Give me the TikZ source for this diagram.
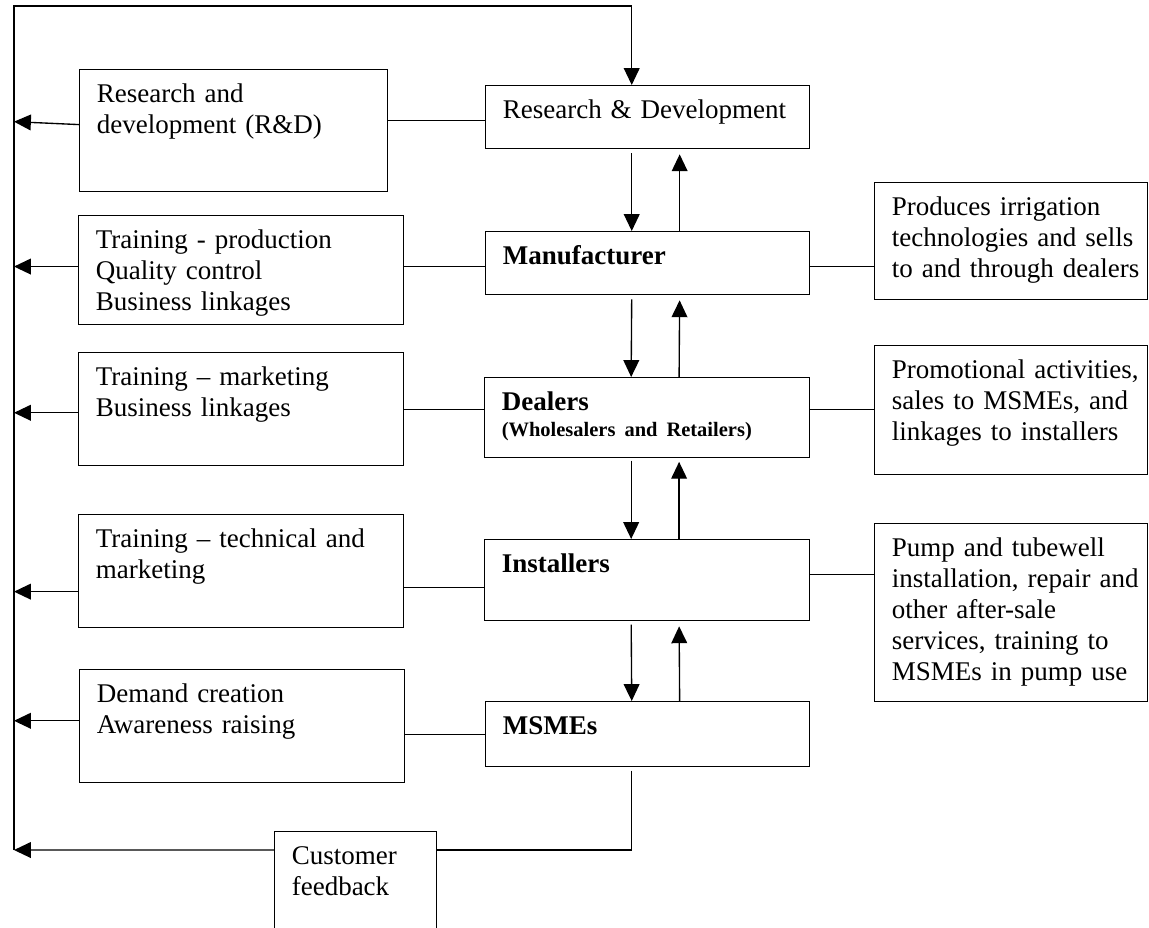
\documentclass[tikz,border=0pt]{standalone}
\usepackage{fontspec}
\setmainfont{Liberation Serif}
\usetikzlibrary{arrows.meta}

\tikzset{
	blk/.style 2 args = { draw , line width = 0.6pt , anchor = north west , inner sep = 0pt , align = left ,
		text width = #1 , text height = 14.7pt , text depth = #2 ,
		font = \fontsize{12}{13.8}\selectfont , execute at begin node = {\leftskip=7.6pt\relax} } ,
	lnk/.style = { line width = 0.6pt } ,
	arr/.style = { line width = 0.6pt , -{Triangle[length=7.5pt,width=7pt]} }
}

\begin{document}
\begin{tikzpicture}[x = 0.4444pt , y = -0.4444pt]
				\useasboundingbox (0,0) rectangle (1149,927);
				\coordinate (spinetop) at (14,6);
				\coordinate (spinebot) at (14,850);
				\node[blk = {136.9pt}{39.5pt}] (rdl) at (79,69) {Research and\\development (R\&D)};
				\node[blk = {144.4pt}{33.7pt}] (trp) at (78,215) {Training - production\\Quality control\\Business linkages};
				\node[blk = {144.4pt}{35.5pt}] (trm) at (78,352) {Training -- marketing\\Business linkages};
				\node[blk = {144.4pt}{35.5pt}] (trt) at (78,514) {Training -- technical and\\marketing};
				\node[blk = {144.4pt}{35.5pt}] (dem) at (79,669) {Demand creation\\Awareness raising};
				\node[blk = {144.0pt}{13.3pt}] (rd) at (485,85) {Research \& Development};
				\node[blk = {144.0pt}{13.3pt}] (man) at (485,231) {\textbf{Manufacturer}};
				\node[blk = {144.4pt}{20.9pt}] (dea) at (484,377) {\textbf{Dealers}\\[-2.2pt]{\fontsize{9.1}{11}\selectfont\bfseries (Wholesalers and Retailers)}};
				\node[blk = {144.4pt}{21.3pt}] (ins) at (484,539) {\textbf{Installers}};
				\node[blk = {144.0pt}{14.2pt}] (msm) at (485,701) {\textbf{MSMEs}};
				\node[blk = {121.3pt}{37.3pt}] (pro) at (874,182) {Produces irrigation\\technologies and sells\\to and through dealers};
				\node[blk = {121.3pt}{42.6pt}] (prm) at (874,345) {Promotional activities,\\sales to MSMEs, and\\linkages to installers};
				\node[blk = {121.3pt}{64.4pt}] (pmp) at (874,523) {Pump and tubewell\\installation, repair and\\other after-sale\\services, training to\\MSMEs in pump use};
				\node[blk = {72.0pt}{42.6pt}] (cus) at (274,831) {Customer\\feedback};
				\draw[arr] (spinebot) -- (spinetop) -| ([xshift=-7.1pt]rd.north);
				\draw[arr] ([yshift=2.7pt]rdl.west) -- ([yshift=4pt]rdl.west -| spinebot);
				\draw[arr] ([yshift=1.6pt]trp.west) -- ([yshift=1.6pt]trp.west -| spinebot);
				\draw[arr] ([yshift=-1.6pt]trm.west) -- ([yshift=-1.6pt]trm.west -| spinebot);
				\draw[arr] ([yshift=-9.1pt]trt.west) -- ([yshift=-9.1pt]trt.west -| spinebot);
				\draw[arr] ([yshift=2.4pt]dem.west) -- ([yshift=2.4pt]dem.west -| spinebot);
				\draw[lnk] ([yshift=-1.6pt]rd.west) -- ([yshift=-1.6pt]rd.west -| rdl.east);
				\draw[lnk] ([yshift=-1.6pt]man.west) -- ([yshift=-1.6pt]man.west -| trp.east);
				\draw[lnk] ([yshift=3.6pt]dea.west) -- ([yshift=3.6pt]dea.west -| trm.east);
				\draw[lnk] ([yshift=-3.3pt]ins.west) -- ([yshift=-3.3pt]ins.west -| trt.east);
				\draw[lnk] (msm.west) -- (msm.west -| dem.east);
				\draw[lnk] ([yshift=-1.6pt]man.east) -- ([yshift=-1.6pt]man.east -| pro.west);
				\draw[lnk] ([yshift=3.6pt]dea.east) -- ([yshift=3.6pt]dea.east -| prm.west);
				\draw[lnk] ([yshift=2.4pt]ins.east) -- ([yshift=2.4pt]ins.east -| pmp.west);
				\draw[arr , shorten <= 1.8pt] ([xshift=-7.1pt]rd.south) -- ([xshift=-7.1pt]man.north);
				\draw[arr , shorten >= 2.2pt] ([xshift=14.2pt]man.north) -- ([xshift=14.2pt]rd.south);
				\draw[arr , shorten <= 1.8pt] ([xshift=-7.1pt]man.south) -- ([xshift=-7.1pt]dea.north);
				\draw[arr , shorten >= 2.2pt] ([xshift=14.2pt]dea.north) -- ([xshift=14.2pt]man.south);
				\draw[arr , shorten <= 1.0pt] ([xshift=-7.1pt]dea.south) -- ([xshift=-7.1pt]ins.north);
				\draw[arr , shorten >= 1.5pt] ([xshift=14.2pt]ins.north) -- ([xshift=14.2pt]dea.south);
				\draw[arr , shorten <= 1.4pt] ([xshift=-7.1pt]ins.south) -- ([xshift=-7.1pt]msm.north);
				\draw[arr , shorten >= 2.2pt] ([xshift=14.2pt]msm.north) -- ([xshift=14.2pt]ins.south);
				\draw[lnk , shorten <= 1.4pt] ([xshift=-7.1pt]msm.south) |- ([yshift=-8.4pt]cus.north east);
				\draw[arr] ([yshift=-8.4pt]cus.north west) -- (spinebot);
\end{tikzpicture}
\end{document}
